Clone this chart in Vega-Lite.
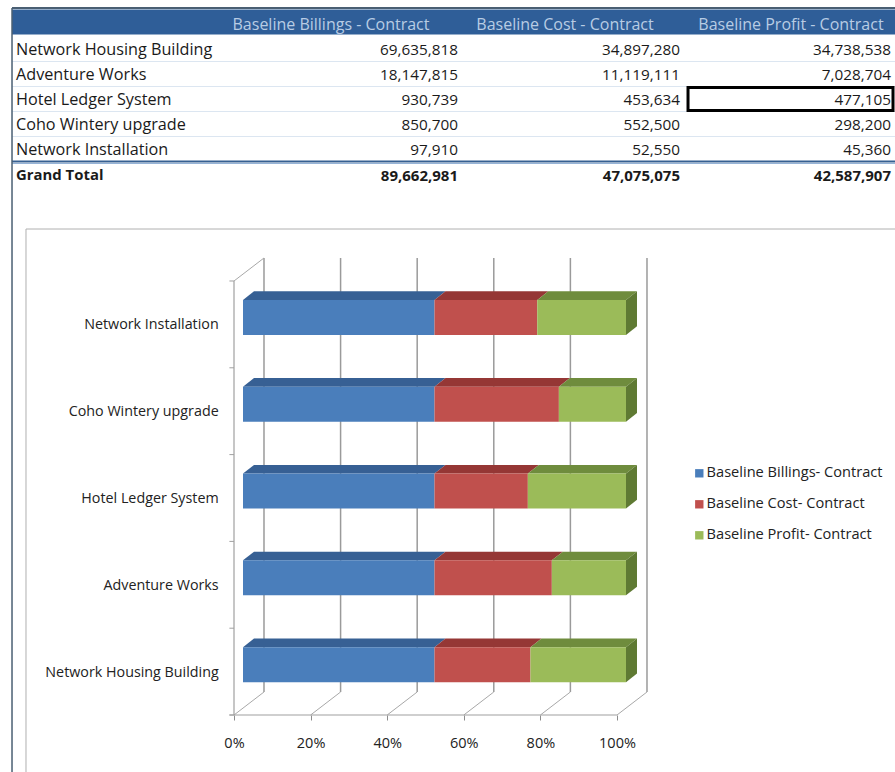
{"$schema":"https://vega.github.io/schema/vega-lite/v6.json","padding":0,"bounds":"flush","spacing":0,"background":"white","config":{"view":{"stroke":null},"text":{"font":"Open Sans"},"axis":{"labelFont":"Open Sans"},"legend":{"labelFont":"Open Sans"}},
"datasets":{"table":[
{"Project":"Network Housing Building","Series":"Baseline Billings - Contract","Value":69635818},
{"Project":"Network Housing Building","Series":"Baseline Cost - Contract","Value":34897280},
{"Project":"Network Housing Building","Series":"Baseline Profit - Contract","Value":34738538},
{"Project":"Adventure Works","Series":"Baseline Billings - Contract","Value":18147815},
{"Project":"Adventure Works","Series":"Baseline Cost - Contract","Value":11119111},
{"Project":"Adventure Works","Series":"Baseline Profit - Contract","Value":7028704},
{"Project":"Hotel Ledger System","Series":"Baseline Billings - Contract","Value":930739},
{"Project":"Hotel Ledger System","Series":"Baseline Cost - Contract","Value":453634},
{"Project":"Hotel Ledger System","Series":"Baseline Profit - Contract","Value":477105},
{"Project":"Coho Wintery upgrade","Series":"Baseline Billings - Contract","Value":850700},
{"Project":"Coho Wintery upgrade","Series":"Baseline Cost - Contract","Value":552500},
{"Project":"Coho Wintery upgrade","Series":"Baseline Profit - Contract","Value":298200},
{"Project":"Network Installation","Series":"Baseline Billings - Contract","Value":97910},
{"Project":"Network Installation","Series":"Baseline Cost - Contract","Value":52550},
{"Project":"Network Installation","Series":"Baseline Profit - Contract","Value":45360},
{"Project":"Grand Total","Series":"Baseline Billings - Contract","Value":89662981},
{"Project":"Grand Total","Series":"Baseline Cost - Contract","Value":47075075},
{"Project":"Grand Total","Series":"Baseline Profit - Contract","Value":42587907}],
"ticks":[{"p":0},{"p":0.2},{"p":0.4},{"p":0.6},{"p":0.8},{"p":1}],
"rows":[{"u":0},{"u":1},{"u":2},{"u":3},{"u":4},{"u":5}],
"one":[{"k":1}]},
"vconcat":[
{"width":895,"height":229,
"layer":[
{"data":{"name":"one"},"mark":{"type":"bar","size":25,"yOffset":-2,"color":"#2F5E98"},
"encoding":{"x":{"datum":-0.009,"type":"quantitative","axis":null,"scale":{"domain":[0,1,2,3],"range":[16,458,680,891]}},"x2":{"datum":3.02},
"y":{"datum":"Header","type":"nominal","axis":null,"scale":{"type":"band","domain":["Header","Network Housing Building","Adventure Works","Hotel Ledger System","Coho Wintery upgrade","Network Installation","Grand Total"],"range":[11.5,186.5],"paddingInner":0,"paddingOuter":0}}}},
{"data":{"name":"table"},"transform":[{"filter":"datum.Series=='Baseline Billings - Contract' && datum.Project!='Grand Total' && datum.Project!='Network Installation'"}],"mark":{"type":"rule","color":"#DCE6F1","strokeWidth":1},
"encoding":{"x":{"datum":-0.009,"type":"quantitative"},"x2":{"datum":3.02},"y":{"field":"Project","type":"nominal","bandPosition":1}}},
{"data":{"name":"one"},"mark":{"type":"rule","color":"#366092","strokeWidth":2},
"encoding":{"x":{"datum":-0.009,"type":"quantitative"},"x2":{"datum":3.02},"y":{"datum":"Network Installation","type":"nominal","bandPosition":1}}},
{"data":{"name":"one"},"mark":{"type":"rule","color":"#95B3D7","strokeWidth":1,"yOffset":2},
"encoding":{"x":{"datum":-0.009,"type":"quantitative"},"x2":{"datum":3.02},"y":{"datum":"Network Installation","type":"nominal","bandPosition":1}}},
{"data":{"name":"table"},"transform":[{"filter":"datum.Project=='Grand Total'"},{"calculate":"[0.7127,1.482,2.526][indexof(['Baseline Billings - Contract','Baseline Cost - Contract','Baseline Profit - Contract'],datum.Series)]","as":"col"}],"mark":{"type":"text","align":"center","baseline":"middle","fontSize":16,"dy":1,"color":"#B8CCE4"},
"encoding":{"x":{"field":"col","type":"quantitative"},"y":{"datum":"Header","type":"nominal"},"text":{"field":"Series"}}},
{"data":{"name":"table"},"transform":[{"filter":"datum.Series=='Baseline Billings - Contract' && datum.Project!='Grand Total'"}],"mark":{"type":"text","align":"left","baseline":"middle","fontSize":16.2,"dy":1,"color":"#1a1a1a"},
"encoding":{"x":{"datum":0,"type":"quantitative"},"y":{"field":"Project","type":"nominal"},"text":{"field":"Project"}}},
{"data":{"name":"table"},"transform":[{"filter":"datum.Series=='Baseline Billings - Contract' && datum.Project=='Grand Total'"}],"mark":{"type":"text","align":"left","baseline":"middle","fontSize":14.9,"dy":2,"fontWeight":"bold","color":"#1a1a1a"},
"encoding":{"x":{"datum":0,"type":"quantitative"},"y":{"field":"Project","type":"nominal"},"text":{"field":"Project"}}},
{"data":{"name":"table"},"transform":[{"filter":"datum.Project!='Grand Total'"},{"calculate":"indexof(['Baseline Billings - Contract','Baseline Cost - Contract','Baseline Profit - Contract'],datum.Series)+1","as":"col"}],"mark":{"type":"text","align":"right","baseline":"middle","fontSize":15.3,"dy":1,"color":"#1a1a1a"},
"encoding":{"x":{"field":"col","type":"quantitative"},"y":{"field":"Project","type":"nominal"},"text":{"field":"Value","type":"quantitative","format":","}}},
{"data":{"name":"table"},"transform":[{"filter":"datum.Project=='Grand Total'"},{"calculate":"indexof(['Baseline Billings - Contract','Baseline Cost - Contract','Baseline Profit - Contract'],datum.Series)+1","as":"col"}],"mark":{"type":"text","align":"right","baseline":"middle","fontSize":15,"dy":2,"fontWeight":"bold","color":"#1a1a1a"},
"encoding":{"x":{"field":"col","type":"quantitative"},"y":{"field":"Project","type":"nominal"},"text":{"field":"Value","type":"quantitative","format":","}}},
{"data":{"name":"one"},"mark":{"type":"bar","size":23,"fillOpacity":0,"stroke":"#000000","strokeWidth":3},
"encoding":{"x":{"datum":2.038,"type":"quantitative"},"x2":{"datum":3.0095},"y":{"datum":"Hotel Ledger System","type":"nominal"}}}
]},
{"width":895,"height":486,
"layer":[
{"data":{"name":"one"},"mark":{"type":"rule","color":"#4A5F73","strokeWidth":1.5},
"encoding":{"x":{"datum":-0.5796,"type":"quantitative","title":null,"scale":{"domain":[-0.61097,1.72585],"nice":false,"zero":false},"axis":{"values":[0,0.2,0.4,0.6,0.8,1],"format":".0%","domain":false,"grid":false,"tickSize":5,"tickColor":"#8c8c8c","labelFontSize":14.5,"labelColor":"#222222","labelPadding":16,"title":null}},
"y":{"datum":8.145,"type":"quantitative","axis":null,"scale":{"domain":[0,5.599],"nice":false,"zero":false}},"y2":{"datum":-0.657}}},
{"data":{"name":"one"},"mark":{"type":"rule","color":"#4A5F73","strokeWidth":2},"encoding":{"x":{"datum":-0.5796,"type":"quantitative"},"x2":{"datum":1.726},"y":{"datum":8.145,"type":"quantitative"}}},
{"data":{"name":"one"},"mark":{"type":"rule","color":"#B0B0B0","strokeWidth":1},"encoding":{"x":{"datum":-0.5431,"type":"quantitative"},"y":{"datum":5.599,"type":"quantitative"},"y2":{"datum":-0.657}}},
{"data":{"name":"one"},"mark":{"type":"rule","color":"#B0B0B0","strokeWidth":1},"encoding":{"x":{"datum":-0.5431,"type":"quantitative"},"x2":{"datum":1.726},"y":{"datum":5.599,"type":"quantitative"}}},
{"data":{"name":"ticks"},"transform":[{"calculate":"datum.p+0.0783","as":"bx"}],"mark":{"type":"rule","color":"#9a9a9a","strokeWidth":1.5},"encoding":{"x":{"field":"bx","type":"quantitative"},"y":{"datum":0.265,"type":"quantitative"},"y2":{"datum":5.265}}},
{"data":{"name":"ticks"},"transform":[{"calculate":"datum.p+0.0783","as":"bx"}],"mark":{"type":"rule","color":"#a8a8a8","strokeWidth":1},"encoding":{"x":{"field":"p","type":"quantitative"},"x2":{"field":"bx"},"y":{"datum":0,"type":"quantitative"},"y2":{"datum":0.265}}},
{"data":{"name":"one"},"mark":{"type":"rule","color":"#a0a0a0","strokeWidth":1.2},"encoding":{"x":{"datum":-0.012,"type":"quantitative"},"x2":{"datum":1},"y":{"datum":0,"type":"quantitative"}}},
{"data":{"name":"one"},"mark":{"type":"rule","color":"#a0a0a0","strokeWidth":1.2},"encoding":{"x":{"datum":0,"type":"quantitative"},"y":{"datum":0,"type":"quantitative"},"y2":{"datum":5}}},
{"data":{"name":"one"},"mark":{"type":"rule","color":"#a8a8a8","strokeWidth":1},"encoding":{"x":{"datum":0,"type":"quantitative"},"x2":{"datum":0.0783},"y":{"datum":5,"type":"quantitative"},"y2":{"datum":5.265}}},
{"data":{"name":"rows"},"mark":{"type":"rule","color":"#a0a0a0","strokeWidth":1},"encoding":{"x":{"datum":-0.012,"type":"quantitative"},"x2":{"datum":0},"y":{"field":"u","type":"quantitative"}}},
{"data":{"name":"table"},"transform":[{"filter":"datum.Project!='Grand Total'"},{"stack":"Value","groupby":["Project"],"offset":"normalize","sort":[{"field":"Series"}],"as":["p0","p1"]},{"calculate":"indexof(['Network Housing Building','Adventure Works','Hotel Ledger System','Coho Wintery upgrade','Network Installation'],datum.Project)","as":"r"},{"calculate":"[0,1]","as":"t"},{"flatten":["t"]},{"calculate":"datum.p0+0.0235+datum.t*0.0287","as":"xa"},{"calculate":"datum.p1+0.0235+datum.t*0.0287","as":"xb"},{"calculate":"datum.r+0.7815+datum.t*0.1","as":"ya"}],
"mark":{"type":"area","orient":"horizontal"},
"encoding":{"y":{"field":"ya","type":"quantitative"},"x":{"field":"xa","type":"quantitative"},"x2":{"field":"xb"},"detail":{"field":"Project"},"fill":{"field":"Series","type":"nominal","legend":null,"scale":{"domain":["Baseline Profit - Contract","Baseline Cost - Contract","Baseline Billings - Contract"],"range":["#6F8C3D","#953735","#376094"]}}}},
{"data":{"name":"table"},"transform":[{"filter":"datum.Project!='Grand Total' && datum.Series=='Baseline Profit - Contract'"},{"calculate":"indexof(['Network Housing Building','Adventure Works','Hotel Ledger System','Coho Wintery upgrade','Network Installation'],datum.Project)","as":"r"},{"calculate":"[0,1]","as":"t"},{"flatten":["t"]},{"calculate":"1.0235+datum.t*0.0287","as":"xa"},{"calculate":"datum.r+0.3785+datum.t*0.1","as":"ya"},{"calculate":"datum.r+0.7815+datum.t*0.1","as":"yb"}],
"mark":{"type":"area","orient":"vertical","color":"#5F7A33"},
"encoding":{"x":{"field":"xa","type":"quantitative"},"y":{"field":"ya","type":"quantitative"},"y2":{"field":"yb"},"detail":{"field":"Project"}}},
{"data":{"name":"table"},"transform":[{"filter":"datum.Project!='Grand Total'"},{"stack":"Value","groupby":["Project"],"offset":"normalize","sort":[{"field":"Series"}],"as":["p0","p1"]},{"calculate":"indexof(['Network Housing Building','Adventure Works','Hotel Ledger System','Coho Wintery upgrade','Network Installation'],datum.Project)","as":"r"},{"calculate":"datum.p0+0.0235","as":"x0"},{"calculate":"datum.p1+0.0235","as":"x1"},{"calculate":"datum.r+0.3785","as":"y0"},{"calculate":"datum.r+0.7815","as":"y1"}],
"mark":{"type":"rect"},
"encoding":{"x":{"field":"x0","type":"quantitative"},"x2":{"field":"x1"},"y":{"field":"y0","type":"quantitative"},"y2":{"field":"y1"},"color":{"field":"Series","type":"nominal","title":null,"scale":{"domain":["Baseline Billings - Contract","Baseline Cost - Contract","Baseline Profit - Contract"],"range":["#4A7EBB","#C0504D","#9BBB59"]},"legend":{"orient":"none","legendX":692,"legendY":466,"symbolType":"square","symbolSize":70,"symbolStrokeWidth":0,"labelFontSize":14.6,"labelColor":"#222222","rowPadding":16,"labelLimit":220,"labelOffset":0,"labelExpr":"replace(datum.label,' - ','- ')"}}}},
{"data":{"name":"table"},"transform":[{"filter":"datum.Project!='Grand Total' && datum.Series=='Baseline Billings - Contract'"},{"calculate":"indexof(['Network Housing Building','Adventure Works','Hotel Ledger System','Coho Wintery upgrade','Network Installation'],datum.Project)+0.488","as":"yc"}],
"mark":{"type":"text","align":"right","baseline":"middle","fontSize":14.3,"color":"#222222"},
"encoding":{"x":{"datum":-0.04,"type":"quantitative"},"y":{"field":"yc","type":"quantitative"},"text":{"field":"Project"}}}
]}
]}
